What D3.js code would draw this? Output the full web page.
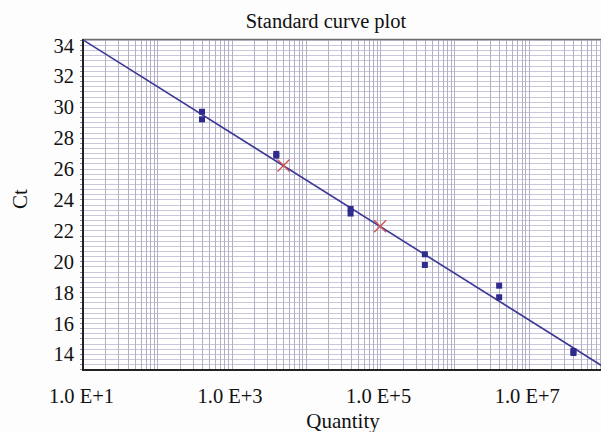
<!DOCTYPE html>
<html>
<head>
<meta charset="utf-8">
<script src="https://cdn.jsdelivr.net/npm/d3@7"></script>
<style>
  html, body { margin: 0; padding: 0; background: #fdfdfd; }
  svg text { font-family: "Liberation Serif", "DejaVu Serif", serif; fill: #111; }
</style>
</head>
<body>
<div class="chart"></div>
<script>
// standards (quantity, Ct) - two replicates each
const stdQuantity = [4e2, 4e2, 4e3, 4e3, 4e4, 4e4, 4e5, 4e5, 4e6, 4e6, 4e7, 4e7];
const stdCt = [29.68, 29.19, 26.95, 26.84, 23.39, 23.09, 20.45, 19.76, 18.42, 17.67, 14.19, 14.06];
// unknown samples (red crosses)
const unkQuantity = [5e3, 1e5];
const unkCt = [26.2, 22.27];
// regression line Ct = intercept + slope * log10(Q)
const fitIntercept = 37.35;
const fitSlope = -3.02;
const yTickValues = [14, 16, 18, 20, 22, 24, 26, 28, 30, 32, 34];
const xTickValues = [1e1, 1e3, 1e5, 1e7];
const xTickLabels = ['1.0 E+1', '1.0 E+3', '1.0 E+5', '1.0 E+7'];

const W = 601, H = 432;
const MARGINS = { top: 39, right: -2, bottom: 62, left: 83 };

const svg = d3.select('.chart').append('svg')
    .attr('width', W).attr('height', H);

const xScale = d3.scaleLog()
    .domain([1e1, 1e8])
    .range([MARGINS.left, W - MARGINS.right]);
const yScale = d3.scaleLinear()
    .domain([12.96, 34.39])
    .range([H - MARGINS.bottom, MARGINS.top]);

const plot = svg.append('g');
plot.append('rect')
    .attr('x', MARGINS.left).attr('y', MARGINS.top)
    .attr('width', W - MARGINS.left).attr('height', H - MARGINS.bottom - MARGINS.top)
    .attr('fill', '#ffffff');

// grid
const [y0, y1] = yScale.domain();
const hLines = d3.range(Math.ceil(y0 * 3) / 3, y1, 1 / 3);
plot.append('g').selectAll('line').data(hLines).join('line')
    .attr('x1', MARGINS.left).attr('x2', W)
    .attr('y1', (d) => Math.round(yScale(d)) + 0.5)
    .attr('y2', (d) => Math.round(yScale(d)) + 0.5)
    .attr('stroke', '#cac7da').attr('stroke-width', 1);

const vLines = xScale.ticks();
plot.append('g').selectAll('line').data(vLines).join('line')
    .attr('x1', (d) => Math.round(xScale(d)) + 0.5)
    .attr('x2', (d) => Math.round(xScale(d)) + 0.5)
    .attr('y1', MARGINS.top).attr('y2', H - MARGINS.bottom)
    .attr('stroke', '#b3b0c6').attr('stroke-width', 1);

// top border
svg.append('line')
    .attr('x1', MARGINS.left).attr('x2', W)
    .attr('y1', MARGINS.top + 0.5).attr('y2', MARGINS.top + 0.5)
    .attr('stroke', '#6e6e6e').attr('stroke-width', 1.5);

// axes
const yAxis = d3.axisLeft(yScale).tickValues(yTickValues)
    .tickSize(0).tickPadding(9).tickFormat(d3.format('d'));
const yAxisEl = svg.append('g')
    .attr('transform', `translate(${MARGINS.left}, 0)`)
    .call(yAxis);
yAxisEl.select('.domain').remove();
yAxisEl.selectAll('text').style('font-size', '20.5px').attr('dy', '0.34em');

// small ticks on the left axis
svg.append('g').selectAll('line').data(hLines).join('line')
    .attr('x1', MARGINS.left - 3).attr('x2', MARGINS.left)
    .attr('y1', (d) => Math.round(yScale(d)) + 0.5)
    .attr('y2', (d) => Math.round(yScale(d)) + 0.5)
    .attr('stroke', '#8a8a9a').attr('stroke-width', 1);

const xAxis = d3.axisBottom(xScale).tickValues(xTickValues)
    .tickSize(0).tickPadding(18)
    .tickFormat((d, i) => xTickLabels[i]);
const xAxisEl = svg.append('g')
    .attr('transform', `translate(0, ${H - MARGINS.bottom})`)
    .call(xAxis);
xAxisEl.select('.domain').remove();
xAxisEl.selectAll('text').style('font-size', '20.5px').attr('dx', '-2px');

svg.append('line')
    .attr('x1', MARGINS.left).attr('x2', MARGINS.left)
    .attr('y1', MARGINS.top).attr('y2', H - MARGINS.bottom + 1)
    .attr('stroke', '#222').attr('stroke-width', 2);
svg.append('line')
    .attr('x1', MARGINS.left - 1).attr('x2', W)
    .attr('y1', H - MARGINS.bottom).attr('y2', H - MARGINS.bottom)
    .attr('stroke', '#222').attr('stroke-width', 2);

// regression line
svg.append('clipPath').attr('id', 'clip').append('rect')
    .attr('x', MARGINS.left).attr('y', MARGINS.top)
    .attr('width', W - MARGINS.left).attr('height', H - MARGINS.bottom - MARGINS.top);
const fitAt = (q) => fitIntercept + fitSlope * Math.log10(q);
const fitEnds = xScale.domain();
svg.append('line')
    .attr('clip-path', 'url(#clip)')
    .attr('x1', xScale(fitEnds[0])).attr('y1', yScale(fitAt(fitEnds[0])))
    .attr('x2', xScale(fitEnds[1])).attr('y2', yScale(fitAt(fitEnds[1])))
    .attr('stroke', '#3b3896').attr('stroke-width', 1.6);

// standards
const stdData = stdQuantity.map((q, i) => ({ q, ct: stdCt[i] }));
svg.append('g').selectAll('rect').data(stdData).join('rect')
    .attr('x', (d) => xScale(d.q) - 3)
    .attr('y', (d) => yScale(d.ct) - 3)
    .attr('width', 6).attr('height', 6)
    .attr('fill', '#2e2b8c');

// unknowns
const unkData = unkQuantity.map((q, i) => ({ q, ct: unkCt[i] }));
svg.append('g').selectAll('path').data(unkData).join('path')
    .attr('d', (d) => {
        const x = xScale(d.q), y = yScale(d.ct), s = 6;
        return `M${x - s},${y - s}L${x + s},${y + s}M${x - s},${y + s}L${x + s},${y - s}`;
    })
    .attr('stroke', '#d2504c').attr('stroke-width', 1.3).attr('fill', 'none');

// titles
svg.append('text')
    .attr('x', 326).attr('y', 28)
    .attr('text-anchor', 'middle')
    .style('font-size', '20.5px')
    .text('Standard curve plot');
svg.append('text')
    .attr('x', 343).attr('y', 428)
    .attr('text-anchor', 'middle')
    .style('font-size', '21px')
    .text('Quantity');
svg.append('text')
    .attr('transform', 'translate(27, 199) rotate(-90)')
    .attr('text-anchor', 'middle')
    .style('font-size', '21px')
    .text('Ct');
</script>
</body>
</html>
